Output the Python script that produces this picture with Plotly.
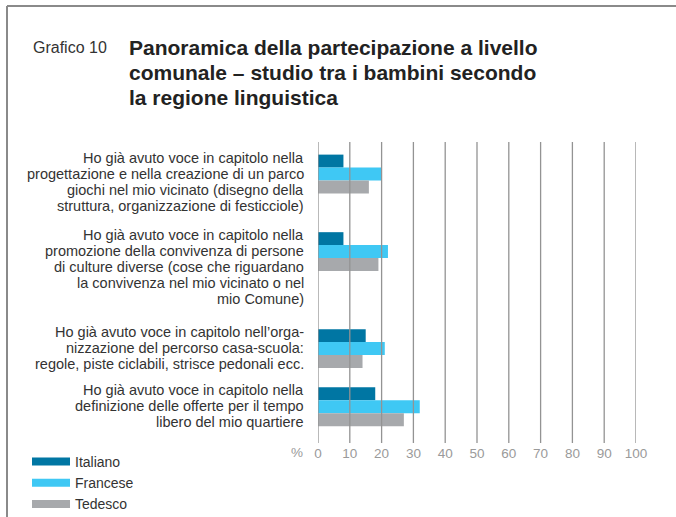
import plotly.graph_objects as go

# data
categories = [
    "Ho già avuto voce in capitolo nella<br>progettazione e nella creazione di un parco<br>giochi nel mio vicinato (disegno della<br>struttura, organizzazione di festicciole)",
    "Ho già avuto voce in capitolo nella<br>promozione della convivenza di persone<br>di culture diverse (cose che riguardano<br>la convivenza nel mio vicinato o nel<br>mio Comune)",
    "Ho già avuto voce in capitolo nell’orga-<br>nizzazione del percorso casa-scuola:<br>regole, piste ciclabili, strisce pedonali ecc.",
    "Ho già avuto voce in capitolo nella<br>definizione delle offerte per il tempo<br>libero del mio quartiere",
]
series_names = ["Italiano", "Francese", "Tedesco"]
italiano = [8, 8, 15, 18]
francese = [20, 22, 21, 32]
tedesco = [16, 19, 14, 27]
x_ticks = [0, 10, 20, 30, 40, 50, 60, 70, 80, 90, 100]

colors = ["#0076A3", "#3FC8F4", "#A7A9AC"]
W, H = 676, 517
ML, MR, MT, MB = 318, 40, 142, 74
LINE_H = 16  # label line spacing in px

# group positions follow the height of each label (number of lines)
pos = []
acc = 0
for lab in categories:
    pos.append(acc)
    acc += lab.count("<br>") + 1

fig = go.Figure()
for name, vals, c in zip(series_names, [italiano, francese, tedesco], colors):
    fig.add_bar(y=pos, x=vals, orientation="h", name=name, marker=dict(color=c, line=dict(width=0)),
                showlegend=False)
    # legend entry with a wide, flat swatch
    fig.add_scatter(x=[None], y=[None], mode="lines", name=name, line=dict(color=c, width=8))

for t in x_ticks:
    fig.add_vline(x=t, line=dict(color="#939393", width=1.3), layer="above")

for p, lab in zip(pos, categories):
    for i, line in enumerate(lab.split("<br>")):
        fig.add_annotation(x=0, xref="paper", y=p - 1, yref="y", text=line, showarrow=False,
                           xanchor="right", yanchor="middle", align="right", xshift=-12,
                           yshift=-3 - i * LINE_H,
                           font=dict(size=14.5, color="#333333"))

pw, ph = W - ML - MR, H - MT - MB
def px(x):
    return (x - ML) / pw
def py(y):
    return (H - MB - y) / ph

# frame
fig.add_shape(type="line", xref="paper", yref="paper", x0=px(7), x1=px(W + 5), y0=py(6), y1=py(6),
              line=dict(color="#8a8a8a", width=2))
fig.add_shape(type="line", xref="paper", yref="paper", x0=px(7), x1=px(7), y0=py(6), y1=py(H + 5),
              line=dict(color="#8a8a8a", width=2))

fig.add_annotation(x=px(31), y=py(48), xref="paper", yref="paper", text="Grafico 10", showarrow=False,
                   xanchor="left", yanchor="middle", font=dict(size=16, color="#333333"))
title_lines = ["Panoramica della partecipazione a livello",
               "comunale – studio tra i bambini secondo",
               "la regione linguistica"]
for i, line in enumerate(title_lines):
    fig.add_annotation(x=px(127), y=py(47 + i * 25.5), xref="paper", yref="paper",
                       text="<b>" + line + "</b>", showarrow=False, xanchor="left", yanchor="middle",
                       font=dict(size=21, color="#222222",
                                 family="Liberation Sans Narrow, Liberation Sans, Arial"))
fig.add_annotation(x=px(297), y=py(452), xref="paper", yref="paper", text="%", showarrow=False,
                   xanchor="center", yanchor="middle", font=dict(size=13.5, color="#9a9a9a"))

fig.update_layout(
    width=W, height=H, margin=dict(l=ML, r=MR, t=MT, b=MB),
    paper_bgcolor="white", plot_bgcolor="white",
    barmode="group", bargap=1/3, bargroupgap=0,
    font=dict(family="Liberation Sans, Arial, sans-serif", color="#333333"),
    legend=dict(xref="container", yref="container", x=27 / W, y=1 - 446 / H, xanchor="left", yanchor="top",
                font=dict(size=14, color="#333333"), traceorder="normal", tracegroupgap=0,
                itemwidth=38, bgcolor="rgba(0,0,0,0)"),
)
fig.update_xaxes(range=[0, 100], tickvals=x_ticks, showgrid=False, zeroline=False, showline=False,
                 tickfont=dict(size=13.5, color="#9a9a9a"), ticks="", fixedrange=True)
fig.update_yaxes(range=[13.87, -1.65], showticklabels=False, showgrid=False, zeroline=False,
                 showline=False, fixedrange=True)

fig.write_html("out.html", config={"displayModeBar": False},
               post_script="document.body.style.margin='0px';")
